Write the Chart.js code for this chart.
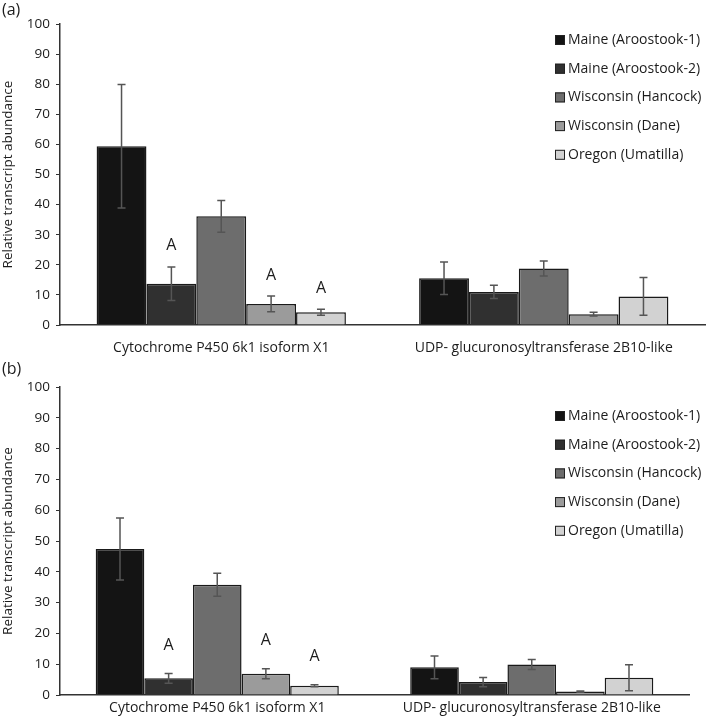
<!DOCTYPE html>
<html>
<head>
<meta charset="utf-8">
<script src="https://cdn.jsdelivr.net/npm/chart.js@4.4.1/dist/chart.umd.min.js"></script>
<style>
  html, body { margin: 0; padding: 0; background: #fff; }
  #wrap { position: relative; width: 709px; height: 718px; }
  canvas { position: absolute; left: 0; }
</style>
</head>
<body>
<div id="wrap">
  <canvas id="panelA" width="709" height="360" style="top:0px"></canvas>
  <canvas id="panelB" width="709" height="358" style="top:360px"></canvas>
</div>
<script>
// categories and populations
var categories = ["Cytochrome P450 6k1 isoform X1", "UDP- glucuronosyltransferase 2B10-like"];
var populations = ["Maine (Aroostook-1)", "Maine (Aroostook-2)", "Wisconsin (Hancock)", "Wisconsin (Dane)", "Oregon (Umatilla)"];
var yTicks = [0, 10, 20, 30, 40, 50, 60, 70, 80, 90, 100];

// panel (a): one row per population, [P450, UDP]
var meansA = [[59.4, 15.5], [13.7, 11.0], [36.1, 18.8], [7.0, 3.6], [4.2, 9.5]];
var errorsA = [[20.5, 5.4], [5.6, 2.2], [5.3, 2.5], [2.6, 0.6], [1.0, 6.3]];
// panel (b)
var meansB = [[47.4, 9.0], [5.4, 4.2], [35.8, 9.9], [6.9, 1.1], [3.0, 5.6]];
var errorsB = [[10.1, 3.7], [1.6, 1.5], [3.7, 1.6], [1.6, 0.2], [0.3, 4.2]];
// bars marked "A": [population, category]
var marksA = [[1, 0], [3, 0], [4, 0]];
var marksB = [[1, 0], [3, 0], [4, 0]];

var barColors = ["#141414", "#303030", "#6d6d6d", "#9b9b9b", "#d2d2d2"];
var FONT = "'Open Sans', 'Noto Sans', sans-serif";
var INK = "#1c1c1c";

var extras = {
    id: "extras",
    afterDatasetsDraw: function (chart, args, opts) {
        var ctx = chart.ctx;
        var y = chart.scales.y;
        ctx.save();
        ctx.strokeStyle = "#555";
        ctx.lineWidth = 1.5;
        chart.data.datasets.forEach(function (ds, i) {
            var meta = chart.getDatasetMeta(i);
            meta.data.forEach(function (bar, j) {
                var v = ds.data[j], e = opts.errors[i][j];
                var top = y.getPixelForValue(v + e), bot = y.getPixelForValue(v - e);
                ctx.beginPath();
                ctx.moveTo(bar.x, top); ctx.lineTo(bar.x, bot);
                ctx.moveTo(bar.x - 4, top); ctx.lineTo(bar.x + 4, top);
                ctx.moveTo(bar.x - 4, bot); ctx.lineTo(bar.x + 4, bot);
                ctx.stroke();
            });
        });
        // letters above the marked bars
        ctx.fillStyle = INK;
        ctx.font = "16px " + FONT;
        ctx.textAlign = "center";
        ctx.textBaseline = "middle";
        opts.marks.forEach(function (m) {
            var bar = chart.getDatasetMeta(m[0]).data[m[1]];
            var v = chart.data.datasets[m[0]].data[m[1]] + opts.errors[m[0]][m[1]];
            ctx.fillText("A", bar.x, y.getPixelForValue(v) - opts.letterGap);
        });
        ctx.restore();
    },
    afterDraw: function (chart, args, opts) {
        var ctx = chart.ctx;
        ctx.save();
        ctx.fillStyle = INK;
        ctx.font = "16px " + FONT;
        ctx.textBaseline = "middle";
        ctx.textAlign = "left";
        ctx.fillText(opts.tag, 2, opts.tagY);
        // legend
        ctx.font = "14px " + FONT;
        chart.data.datasets.forEach(function (ds, i) {
            var ly = opts.legendTop + i * 28.7;
            ctx.fillStyle = ds.backgroundColor;
            ctx.fillRect(555, ly - 5, 10, 10);
            ctx.strokeStyle = "#222";
            ctx.lineWidth = 1;
            ctx.strokeRect(555.5, ly - 4.5, 9, 9);
            ctx.fillStyle = INK;
            ctx.fillText(ds.label, 568, ly);
        });
        ctx.restore();
    }
};

function buildPanel(id, means, errors, marks, look) {
    var datasets = populations.map(function (name, i) {
        return {
            label: name,
            data: means[i],
            backgroundColor: barColors[i],
            borderColor: "#1a1a1a",
            borderWidth: 1.5,
            categoryPercentage: 0.773,
            barPercentage: 1.0
        };
    });
    return new Chart(document.getElementById(id), {
        type: "bar",
        data: { labels: categories, datasets: datasets },
        plugins: [extras],
        options: {
            responsive: false,
            animation: false,
            layout: { padding: { top: look.top, right: look.right, bottom: 0, left: 0 } },
            plugins: {
                legend: { display: false },
                tooltip: { enabled: false },
                extras: { errors: errors, marks: marks, letterGap: look.letterGap, tag: look.tag, tagY: look.tagY, legendTop: look.legendTop }
            },
            scales: {
                x: {
                    grid: { display: false, drawTicks: false },
                    border: { display: true, color: "#333", width: 1.5 },
                    ticks: { color: INK, font: { family: FONT, size: 14 }, padding: look.labelPad, maxRotation: 0 },
                    afterFit: function (s) { s.height = look.xHeight; }
                },
                y: {
                    min: 0, max: 100,
                    afterBuildTicks: function (s) { s.ticks = yTicks.map(function (v) { return { value: v }; }); },
                    grid: { display: true, drawOnChartArea: false, drawTicks: true, tickLength: 4, color: "#333" },
                    border: { display: true, color: "#333", width: 1.5 },
                    ticks: { color: INK, font: { family: FONT, size: 13.5 }, padding: 6 },
                    title: { display: true, text: "Relative transcript abundance", color: INK, font: { family: FONT, size: 13.5 }, padding: { top: 0, bottom: 0 } },
                    afterFit: function (s) { s.width = 60; }
                }
            }
        }
    });
}

buildPanel("panelA", meansA, errorsA, marksA, { top: 24, right: 4, xHeight: 35, labelPad: 15, letterGap: 21, tag: "(a)", tagY: 10, legendTop: 40 });
buildPanel("panelB", meansB, errorsB, marksB, { top: 27, right: 20, xHeight: 23, labelPad: 5, letterGap: 28, tag: "(b)", tagY: 9, legendTop: 56 });
</script>
</body>
</html>
